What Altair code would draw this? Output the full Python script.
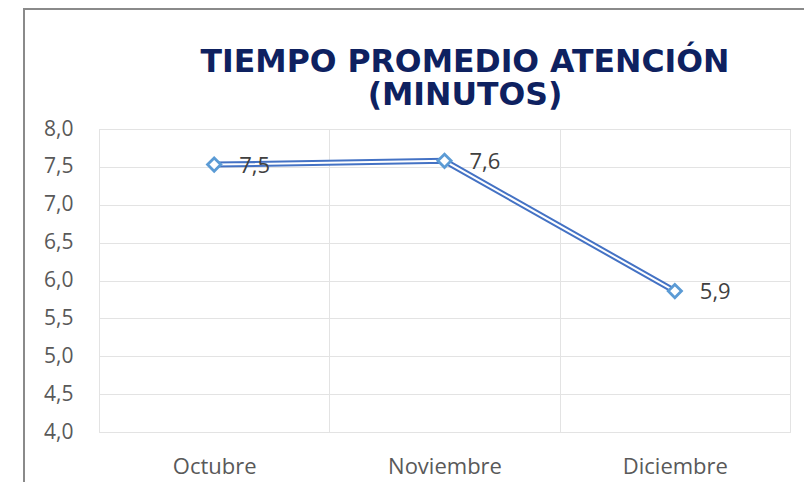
import altair as alt
import pandas as pd

# ---- data ----
MONTHS = ["Octubre", "Noviembre", "Diciembre"]
VALUES = [7.53, 7.58, 5.86]
Y_TICKS = [4.0, 4.5, 5.0, 5.5, 6.0, 6.5, 7.0, 7.5, 8.0]
TITLE_LINES = ["TIEMPO PROMEDIO ATENCIÓN", "(MINUTOS)"]

df = pd.DataFrame({"mes": MONTHS, "valor": VALUES})

W, H = 691, 303
PAD_L, PAD_T, PAD_R, PAD_B = 91, 121, 14, 50

LABEL_FONT = "Open Sans"
LABEL_SIZE = 21

x_enc = alt.X(
    "mes:N",
    sort=MONTHS,
    scale=alt.Scale(paddingInner=0, paddingOuter=0),
    axis=alt.Axis(
        title=None, grid=True, tickBand="extent", domain=False, ticks=False,
        tickSize=0, labelAngle=0, labelFont=LABEL_FONT, labelFontSize=22,
        labelColor="#595959", labelPadding=24, gridColor="#e3e3e3",
    ),
)
y_enc = alt.Y(
    "valor:Q",
    scale=alt.Scale(domain=[4, 8], nice=False, zero=False),
    axis=alt.Axis(
        title=None, values=Y_TICKS, domain=False, ticks=False, tickSize=0,
        grid=True, gridColor="#e3e3e3",
        labelExpr="replace(format(datum.value, '.1f'), '.', ',')",
        labelFont=LABEL_FONT, labelFontSize=LABEL_SIZE, labelColor="#595959",
        labelPadding=26,
    ),
)

base = alt.Chart(df).encode(x=x_enc, y=y_enc)

line_outer = base.mark_line(color="#4472C4", strokeWidth=6)
line_inner = base.mark_line(color="white", strokeWidth=2)
points = base.mark_point(
    shape="diamond", filled=True, fill="white", stroke="#5B9BD5",
    strokeWidth=2.8, size=175, opacity=1,
)
labels = base.transform_calculate(
    lbl="replace(format(datum.valor, '.1f'), '.', ',')"
).mark_text(
    align="left", baseline="middle", dx=25, dy=1,
    font=LABEL_FONT, fontSize=22, color="#404040",
).encode(text="lbl:N")

one = pd.DataFrame({"k": [0]})
title1 = alt.Chart(one).mark_text(
    text=TITLE_LINES[0], font="DejaVu Sans", fontWeight="bold", fontSize=31.5,
    color="#0E2160", align="center", baseline="alphabetic",
).encode(x=alt.value(366), y=alt.value(-57))
title2 = alt.Chart(one).mark_text(
    text=TITLE_LINES[1], font="DejaVu Sans", fontWeight="bold", fontSize=31.5,
    color="#0E2160", align="center", baseline="alphabetic",
).encode(x=alt.value(366), y=alt.value(-24))

border_left = alt.Chart(one).mark_rule(color="#8a8a8a", strokeWidth=2).encode(
    x=alt.value(-75), y=alt.value(-120), y2=alt.value(H + PAD_B + 5)
)
border_top = alt.Chart(one).mark_rule(color="#8a8a8a", strokeWidth=2).encode(
    x=alt.value(-76), x2=alt.value(W + PAD_R + 5), y=alt.value(-120)
)

chart = alt.layer(
    line_outer, line_inner, points, labels, title1, title2, border_left, border_top
).properties(
    width=W, height=H,
    autosize=alt.AutoSizeParams(type="none"),
    padding={"left": PAD_L, "top": PAD_T, "right": PAD_R, "bottom": PAD_B},
    background="white",
).configure_view(stroke="#e3e3e3")

chart.save("out.html", embed_options={"renderer": "svg", "actions": False})
